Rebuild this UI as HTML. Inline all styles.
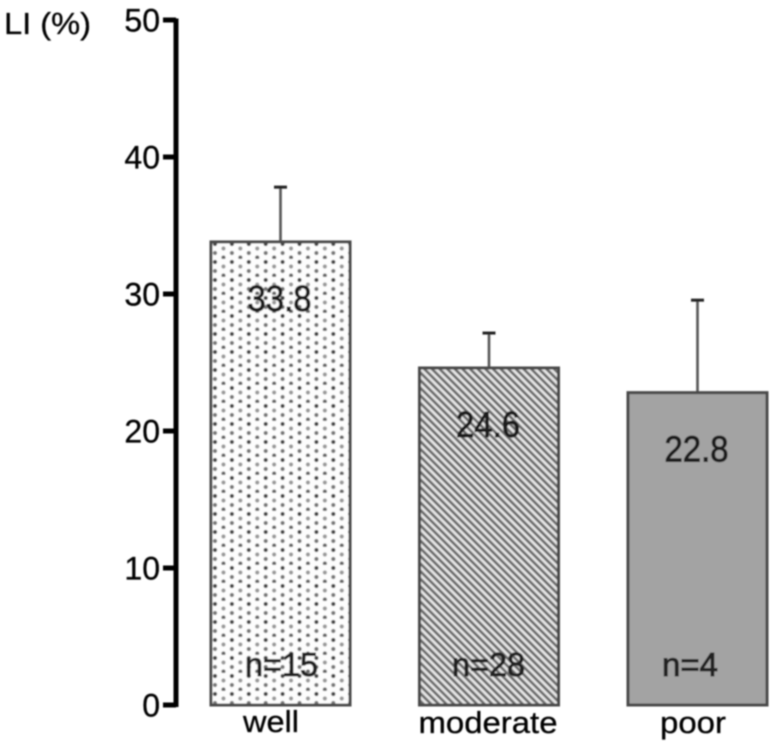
<!DOCTYPE html>
<html lang="en">
<head>
<meta charset="utf-8">
<title>LI by differentiation</title>
<style>
html,body{margin:0;padding:0;background:#fff;}
svg{display:block;}
text{font-family:"Liberation Sans",Arial,sans-serif;}
</style>
</head>
<body>
<svg id="chart" xmlns="http://www.w3.org/2000/svg" width="776" height="746" viewBox="0 0 776 746">
  <defs>
    <filter id="soft" filterUnits="userSpaceOnUse" x="0" y="0" width="776" height="746"><feGaussianBlur stdDeviation="0.8"/></filter>
    <pattern id="dots" patternUnits="userSpaceOnUse" width="16.9" height="18" patternTransform="translate(211 241)">
      <rect width="16.9" height="18" fill="#fdfdfd"/>
      <circle cx="4" cy="3" r="2.1" fill="#444"/>
      <circle cx="12.45" cy="7.5" r="2.1" fill="#999"/>
      <circle cx="4" cy="12" r="2.1" fill="#777"/>
      <circle cx="12.45" cy="16.5" r="2.1" fill="#666"/>
    </pattern>
    <pattern id="hatch" patternUnits="userSpaceOnUse" width="5.4" height="5.4" patternTransform="rotate(-45)">
      <rect width="5.4" height="5.4" fill="#e6e6e6"/>
      <rect x="0" y="0" width="2.7" height="5.4" fill="#6a6a6a"/>
    </pattern>
  </defs>
  <g id="marks" filter="url(#soft)"></g>
</svg>
<script>
const categories = ["well", "moderate", "poor"];
const means = [33.8, 24.6, 22.8];
const errors = [4.0, 2.55, 6.75];
const sampleLabels = ["n=15", "n=28", "n=4"];
const yTicks = [0, 10, 20, 30, 40, 50];

const NS = "http://www.w3.org/2000/svg";
const host = document.getElementById("marks");
const yScale = v => 705 - v * 13.7;
const barLeft = i => 211 + i * 208.5;
const barWidth = 139;
const fills = ["url(#dots)", "url(#hatch)", "#a3a3a3"];
const catX = [271, 488, 693];
const catWidth = [56, 139, 66];
const nX = [281.5, 488.5, 690];
const nWidth = [73, 73, 56];

function add(tag, attrs, text) {
  const el = document.createElementNS(NS, tag);
  for (const k in attrs) el.setAttribute(k, attrs[k]);
  if (text !== undefined) el.textContent = text;
  host.appendChild(el);
  return el;
}

const axis = add("line", {x1: 176, x2: 176, y1: yScale(50) - 1.5, y2: yScale(0) + 2, stroke: "#000", "stroke-width": 5});



yTicks.forEach(t => {
  const tick = add("line", {x1: 163, x2: 176, y1: yScale(t), y2: yScale(t), stroke: "#000", "stroke-width": 5});
  
  
  const label = add("text", {x: 160, y: yScale(t) + 11.5, "text-anchor": "end", "font-size": 32, fill: "#000", stroke: "#000", "stroke-width": 0.3}, String(t));
  
  
});

const yTitle = add("text", {x: 4, y: 34, "font-size": 31, fill: "#000", stroke: "#000", "stroke-width": 0.3, textLength: 87, lengthAdjust: "spacingAndGlyphs"}, "LI (%)");



categories.forEach((c, i) => {
  const top = yScale(means[i]);
  const left = barLeft(i);
  const mid = left + barWidth / 2;

  const whisker = add("line", {x1: mid, x2: mid, y1: yScale(means[i] + errors[i]), y2: top, stroke: "#555", "stroke-width": 2.6});
  
  
  const cap = add("line", {x1: mid - 6.5, x2: mid + 6.5, y1: yScale(means[i] + errors[i]), y2: yScale(means[i] + errors[i]), stroke: "#222", "stroke-width": 3});
  
  

  const bar = add("rect", {x: left, y: top, width: barWidth, height: yScale(0) - top, fill: fills[i], stroke: "#4a4a4a", "stroke-width": 3});
  
  

  const value = add("text", {x: mid - 1, y: top + 69, "text-anchor": "middle", "font-size": 36, fill: "#1c1c1c", stroke: "#1c1c1c", "stroke-width": 1, textLength: 64, lengthAdjust: "spacingAndGlyphs"}, means[i].toFixed(1));
  
  

  const n = add("text", {x: nX[i], y: 676, "text-anchor": "middle", "font-size": 33, fill: "#222", stroke: "#222", "stroke-width": 1, textLength: nWidth[i], lengthAdjust: "spacingAndGlyphs"}, sampleLabels[i]);
  
  

  const cat = add("text", {x: catX[i], y: i === 0 ? 732 : 733, "text-anchor": "middle", "font-size": 31, fill: "#000", stroke: "#000", "stroke-width": 0.3, textLength: catWidth[i], lengthAdjust: "spacingAndGlyphs"}, c);
  
  
});
</script>
</body>
</html>
